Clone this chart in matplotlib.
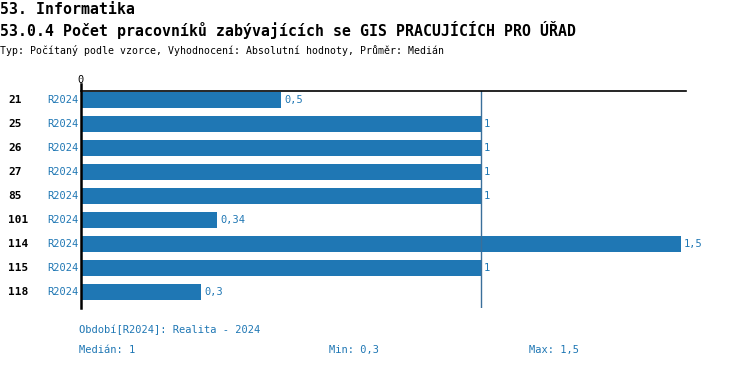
import matplotlib
matplotlib.use("Agg")
import matplotlib.pyplot as plt

categories = ["21", "25", "26", "27", "85", "101", "114", "115", "118"]
series_labels = ["R2024"] * 9
values = [0.5, 1, 1, 1, 1, 0.34, 1.5, 1, 0.3]
value_labels = ["0,5", "1", "1", "1", "1", "0,34", "1,5", "1", "0,3"]
median = 1.0

W, H = 750, 368
fig = plt.figure(figsize=(W / 100, H / 100), dpi=100)
blue = "#1f77b4"
mono = "DejaVu Sans Mono"

x0, x1 = 81, 686
y_top, y_bot = 91, 308
ax = fig.add_axes([x0 / W, 1 - y_bot / H, (x1 - x0) / W, (y_bot - y_top) / H])
ax.set_xlim(0, (x1 - x0) / 400)
ax.set_ylim(8 + 16 / 24, -0.375)
pos = list(range(len(values)))
ax.barh(pos, values, height=16 / 24, color=blue)
for p, v, lab in zip(pos, values, value_labels):
    ax.text(v + 0.008, p, lab, va="center", ha="left", color=blue, family=mono, fontsize=7.5)
ax.axvline(median, color="#3a6f9a", lw=1)
for s in ["right", "bottom"]:
    ax.spines[s].set_visible(False)
ax.spines["top"].set_linewidth(1.2)
ax.spines["left"].set_linewidth(1.8)
ax.spines["left"].set_bounds(8 + 16 / 24, -0.67)
ax.spines["left"].set_zorder(5)
ax.set_xticks([])
ax.set_yticks([])
fig.text(x0 / W, 1 - 80 / H, "0", ha="center", va="center", family=mono, fontsize=7.5)

for p, c, s in zip(pos, categories, series_labels):
    yf = 1 - (100 + 24 * p) / H
    fig.text(8 / W, yf, c, ha="left", va="center", family=mono, fontsize=8, fontweight="bold")
    fig.text(78 / W, yf, s, ha="right", va="center", family=mono, fontsize=7.5, color=blue)

fig.text(0, 1 - 9 / H, "53. Informatika", ha="left", va="center", family=mono, fontsize=10.7, fontweight="bold")
fig.text(0, 1 - 30 / H, "53.0.4 Počet pracovníků zabývajících se GIS PRACUJÍCÍCH PRO ÚŘAD", ha="left", va="center",
         family=mono, fontsize=10.7, fontweight="bold")
fig.text(0, 1 - 50 / H, "Typ: Počítaný podle vzorce, Vyhodnocení: Absolutní hodnoty, Průměr: Medián", ha="left",
         va="center", family=mono, fontsize=7.15)

fig.text(79 / W, 1 - 330 / H, "Období[R2024]: Realita - 2024", ha="left", va="center", family=mono, fontsize=7.5, color=blue)
fig.text(79 / W, 1 - 350 / H, "Medián: 1", ha="left", va="center", family=mono, fontsize=7.5, color=blue)
fig.text(329 / W, 1 - 350 / H, "Min: 0,3", ha="left", va="center", family=mono, fontsize=7.5, color=blue)
fig.text(529 / W, 1 - 350 / H, "Max: 1,5", ha="left", va="center", family=mono, fontsize=7.5, color=blue)

fig.savefig("out.png", dpi=100)
